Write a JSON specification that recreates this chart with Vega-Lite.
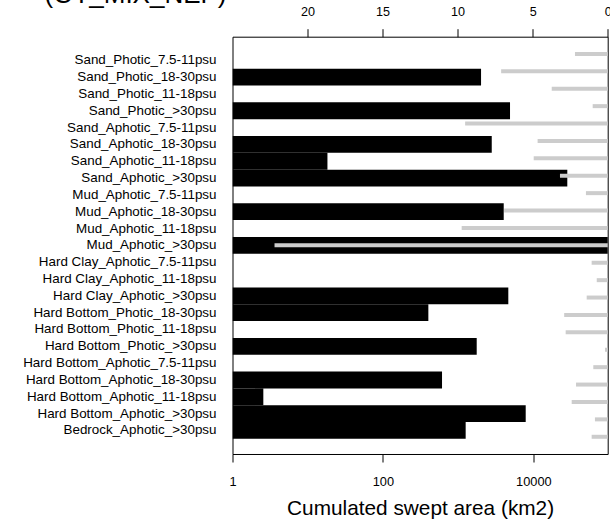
{
  "$schema": "https://vega.github.io/schema/vega-lite/v6.json",
  "autosize": {"type": "none"},
  "width": 375.2,
  "height": 417.3,
  "padding": {"left": 232.5, "top": 36.7, "right": 2.3, "bottom": 72},
  "title": {
    "text": "(OT_MIX_NEP)",
    "anchor": "start",
    "frame": "group",
    "dx": -188,
    "dy": 6,
    "fontSize": 26,
    "fontWeight": "normal",
    "font": "Liberation Sans",
    "color": "black"
  },
  "data": {
    "values": [
      {"cat": "Sand_Photic_7.5-11psu", "area": null, "gray": 2.18},
      {"cat": "Sand_Photic_18-30psu", "area": 2018, "gray": 7.1},
      {"cat": "Sand_Photic_11-18psu", "area": null, "gray": 3.73},
      {"cat": "Sand_Photic_>30psu", "area": 4900, "gray": 1.0},
      {"cat": "Sand_Aphotic_7.5-11psu", "area": null, "gray": 9.5},
      {"cat": "Sand_Aphotic_18-30psu", "area": 2800, "gray": 4.67},
      {"cat": "Sand_Aphotic_11-18psu", "area": 18.3, "gray": 4.93},
      {"cat": "Sand_Aphotic_>30psu", "area": 28300, "gray": 3.18},
      {"cat": "Mud_Aphotic_7.5-11psu", "area": null, "gray": 1.45},
      {"cat": "Mud_Aphotic_18-30psu", "area": 4040, "gray": 6.9},
      {"cat": "Mud_Aphotic_11-18psu", "area": null, "gray": 9.73},
      {"cat": "Mud_Aphotic_>30psu", "area": 200000, "gray": 22.2},
      {"cat": "Hard Clay_Aphotic_7.5-11psu", "area": null, "gray": 1.07},
      {"cat": "Hard Clay_Aphotic_11-18psu", "area": null, "gray": 0.73},
      {"cat": "Hard Clay_Aphotic_>30psu", "area": 4650, "gray": 1.4},
      {"cat": "Hard Bottom_Photic_18-30psu", "area": 402, "gray": 2.9},
      {"cat": "Hard Bottom_Photic_11-18psu", "area": null, "gray": 2.8},
      {"cat": "Hard Bottom_Photic_>30psu", "area": 1767, "gray": 0.18},
      {"cat": "Hard Bottom_Aphotic_7.5-11psu", "area": null, "gray": 0.96},
      {"cat": "Hard Bottom_Aphotic_18-30psu", "area": 611, "gray": 2.11},
      {"cat": "Hard Bottom_Aphotic_11-18psu", "area": 2.57, "gray": 2.4},
      {"cat": "Hard Bottom_Aphotic_>30psu", "area": 7920, "gray": 0.85},
      {"cat": "Bedrock_Aphotic_>30psu", "area": 1260, "gray": 1.07}
    ]
  },
  "layer": [
    {
      "transform": [{"filter": "datum.area > 0"}],
      "mark": {"type": "bar", "color": "black", "clip": true},
      "encoding": {
        "y": {
          "field": "cat",
          "type": "nominal",
          "sort": null,
          "scale": {
            "domain": ["Sand_Photic_7.5-11psu","Sand_Photic_18-30psu","Sand_Photic_11-18psu","Sand_Photic_>30psu","Sand_Aphotic_7.5-11psu","Sand_Aphotic_18-30psu","Sand_Aphotic_11-18psu","Sand_Aphotic_>30psu","Mud_Aphotic_7.5-11psu","Mud_Aphotic_18-30psu","Mud_Aphotic_11-18psu","Mud_Aphotic_>30psu","Hard Clay_Aphotic_7.5-11psu","Hard Clay_Aphotic_11-18psu","Hard Clay_Aphotic_>30psu","Hard Bottom_Photic_18-30psu","Hard Bottom_Photic_11-18psu","Hard Bottom_Photic_>30psu","Hard Bottom_Aphotic_7.5-11psu","Hard Bottom_Aphotic_18-30psu","Hard Bottom_Aphotic_11-18psu","Hard Bottom_Aphotic_>30psu","Bedrock_Aphotic_>30psu"],
            "paddingInner": 0,
            "paddingOuter": 0.9
          },
          "axis": {
            "title": null,
            "ticks": false,
            "domain": false,
            "labelPadding": 16.5,
            "labelFontSize": 13.4,
            "labelFont": "Liberation Sans",
            "labelColor": "black",
            "labelLimit": 300
          }
        },
        "x": {
          "field": "area",
          "type": "quantitative",
          "scale": {"type": "log", "domain": [1, 97500], "nice": false},
          "axis": {
            "title": "Cumulated swept area (km2)",
            "values": [1, 100, 10000],
            "format": "d",
            "grid": false,
            "domain": false,
            "tickColor": "black",
            "tickSize": 8,
            "labelFontSize": 12.8,
            "labelFont": "Liberation Sans",
            "labelColor": "black",
            "labelPadding": 13,
            "labelFlush": false,
            "titleFontSize": 20.8,
            "titleFont": "Liberation Sans",
            "titleFontWeight": "normal",
            "titleColor": "black",
            "titlePadding": 11
          }
        },
        "x2": {"datum": 1}
      }
    },
    {
      "mark": {"type": "rule", "color": "#cccccc", "strokeWidth": 4},
      "encoding": {
        "y": {
          "field": "cat",
          "type": "nominal",
          "sort": null,
          "scale": {
            "domain": ["Sand_Photic_7.5-11psu","Sand_Photic_18-30psu","Sand_Photic_11-18psu","Sand_Photic_>30psu","Sand_Aphotic_7.5-11psu","Sand_Aphotic_18-30psu","Sand_Aphotic_11-18psu","Sand_Aphotic_>30psu","Mud_Aphotic_7.5-11psu","Mud_Aphotic_18-30psu","Mud_Aphotic_11-18psu","Mud_Aphotic_>30psu","Hard Clay_Aphotic_7.5-11psu","Hard Clay_Aphotic_11-18psu","Hard Clay_Aphotic_>30psu","Hard Bottom_Photic_18-30psu","Hard Bottom_Photic_11-18psu","Hard Bottom_Photic_>30psu","Hard Bottom_Aphotic_7.5-11psu","Hard Bottom_Aphotic_18-30psu","Hard Bottom_Aphotic_11-18psu","Hard Bottom_Aphotic_>30psu","Bedrock_Aphotic_>30psu"],
            "paddingInner": 0,
            "paddingOuter": 0.49
          },
          "axis": null
        },
        "x": {
          "field": "gray",
          "type": "quantitative",
          "scale": {"domain": [0, 25], "reverse": true, "nice": false},
          "axis": {
            "orient": "top",
            "title": null,
            "values": [0, 5, 10, 15, 20],
            "grid": false,
            "domain": false,
            "tickColor": "black",
            "tickSize": 8,
            "labelFontSize": 12.6,
            "labelFont": "Liberation Sans",
            "labelColor": "black",
            "labelPadding": 10,
            "labelFlush": false
          }
        },
        "x2": {"datum": 0}
      }
    }
  ],
  "resolve": {"scale": {"x": "independent", "y": "independent"}},
  "config": {
    "view": {"stroke": "black", "strokeWidth": 1}
  }
}
